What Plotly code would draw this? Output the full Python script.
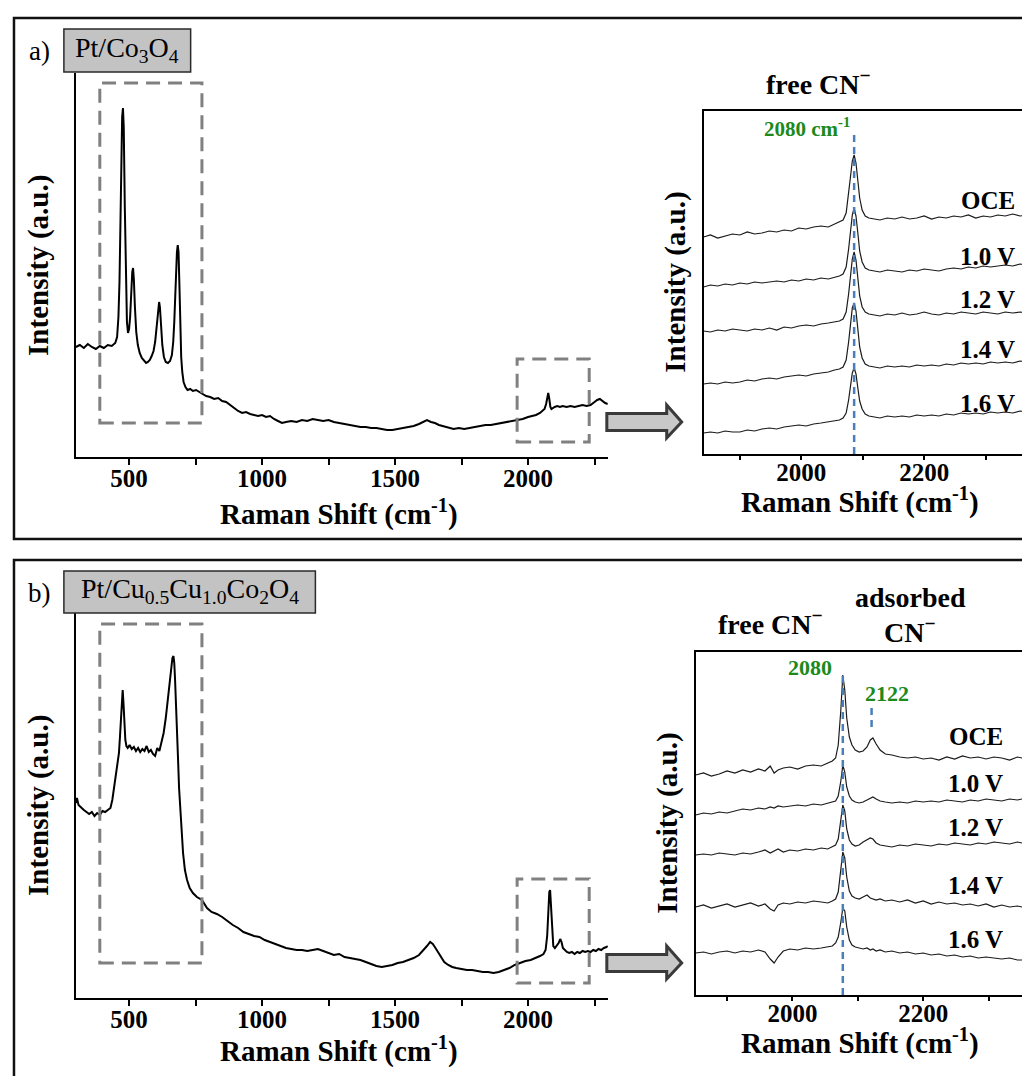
import plotly.graph_objects as go

# ---------------- data ----------------
raman_a_shift = [300, 315, 330, 345, 360, 375, 390, 405, 420, 435,
                 448, 455, 460, 464, 468, 471, 474, 477, 480, 484,
                 488, 492, 496, 500, 504, 508, 512, 515, 518, 522,
                 527, 533, 540, 548, 556, 564, 571, 578, 585, 592,
                 598, 603, 607, 610, 613, 616, 620, 625, 631, 638,
                 646, 654, 661, 666, 670, 674, 677, 680, 683, 686,
                 689, 692, 696, 700, 705, 712, 720, 730, 740, 752,
                 764, 776, 790, 805, 820, 835, 850, 865, 880, 895,
                 910, 925, 940, 955, 970, 985, 1000, 1015, 1030, 1045,
                 1060, 1075, 1090, 1110, 1130, 1150, 1170, 1190, 1210, 1230,
                 1250, 1270, 1290, 1310, 1330, 1350, 1370, 1390, 1410, 1430,
                 1450, 1470, 1490, 1510, 1530, 1550, 1570, 1590, 1605, 1620,
                 1635, 1650, 1665, 1680, 1700, 1720, 1740, 1760, 1780, 1800,
                 1820, 1840, 1860, 1880, 1900, 1920, 1940, 1960, 1980, 2000,
                 2015, 2030, 2045, 2055, 2062, 2068, 2072, 2076, 2080, 2084,
                 2088, 2093, 2100, 2110, 2120, 2130, 2145, 2160, 2175, 2190,
                 2205, 2220, 2235, 2250, 2260, 2270, 2280, 2290, 2300]
raman_a_int = [110, 112, 109, 113, 110, 108, 111, 109, 112, 111,
               114, 120, 140, 175, 240, 300, 340, 349, 330, 250,
               170, 135, 124, 128, 140, 165, 185, 189, 178, 150,
               125, 112, 104, 99, 96, 94, 95, 97, 101, 106,
               115, 130, 145, 153, 155, 150, 132, 112, 100, 95,
               94, 96, 102, 115, 135, 165, 190, 205, 212, 205,
               175, 130, 100, 85, 75, 70, 67, 68, 66, 67,
               65, 63, 61, 60, 58, 59, 56, 55, 52, 49,
               46, 44, 45, 43, 42, 41, 42, 40, 41, 38,
               36, 34, 35, 36, 35, 37, 36, 38, 37, 36,
               37, 35, 34, 33, 32, 31, 30, 30, 29, 29,
               28, 27, 27, 28, 29, 30, 31, 33, 35, 37,
               35, 34, 32, 31, 29, 28, 29, 28, 29, 30,
               31, 32, 32, 33, 34, 35, 36, 37, 38, 40,
               41, 42, 44, 46, 48, 53, 60, 64, 58, 50,
               48, 49, 50, 51, 50, 51, 50, 51, 50, 51,
               52, 51, 52, 55, 57, 58, 56, 54, 53]

raman_b_shift = [300, 304, 310, 320, 330, 340, 350, 360, 370, 380,
                 390, 400, 410, 420, 430, 437, 443, 450, 456, 462,
                 466, 470, 473, 476, 479, 482, 486, 490, 495, 502,
                 510, 518, 526, 534, 542, 550, 558, 566, 574, 582,
                 590, 598, 606, 614, 622, 630, 638, 645, 652, 658,
                 663, 667, 670, 673, 676, 680, 684, 688, 692, 697,
                 703, 710, 718, 728, 740, 755, 774, 793, 810, 830,
                 850, 870, 890, 910, 930, 950, 970, 990, 1010, 1030,
                 1050, 1070, 1090, 1110, 1130, 1150, 1170, 1190, 1210, 1230,
                 1250, 1270, 1290, 1310, 1330, 1350, 1370, 1390, 1410, 1430,
                 1450, 1470, 1490, 1510, 1530, 1550, 1570, 1590, 1605, 1620,
                 1632, 1642, 1652, 1662, 1672, 1685, 1700, 1715, 1730, 1750,
                 1770, 1790, 1810, 1830, 1850, 1870, 1890, 1910, 1930, 1950,
                 1970, 1990, 2010, 2030, 2045, 2058, 2066, 2072, 2076, 2080,
                 2083, 2086, 2090, 2095, 2101, 2108, 2115, 2121, 2126, 2131,
                 2138, 2146, 2155, 2165, 2175, 2185, 2195, 2205, 2215, 2225,
                 2235, 2245, 2255, 2265, 2275, 2285, 2295, 2300]
raman_b_int = [195, 200, 193, 190, 188, 186, 184, 186, 182, 185,
               183, 187, 186, 188, 190, 198, 210, 222, 232, 245,
               262, 285, 300, 308, 295, 275, 258, 252, 250, 253,
               249, 251, 247, 250, 246, 249, 247, 252, 246, 248,
               244, 242, 250, 247, 255, 265, 280, 298, 315, 330,
               340, 342, 335, 318, 300, 270, 240, 210, 190, 165,
               145, 128, 118, 110, 105, 101, 98, 90, 86, 84,
               81, 77, 73, 70, 66, 64, 62, 61, 58, 56,
               54, 52, 50, 49, 48, 48, 47, 48, 49, 47,
               45, 43, 44, 41, 40, 39, 38, 36, 34, 32,
               31, 32, 33, 35, 36, 38, 40, 43, 47, 52,
               56, 54, 50, 46, 42, 36, 33, 31, 30, 29,
               28, 28, 27, 26, 26, 25, 26, 28, 30, 33,
               35, 37, 38, 40, 42, 44, 48, 62, 90, 106,
               108, 95, 70, 52, 50, 52, 55, 59, 56, 50,
               48, 46, 45, 46, 44, 46, 45, 47, 46, 47,
               46, 48, 47, 49, 48, 50, 51, 52]

potentials = ["OCE", "1.0 V", "1.2 V", "1.4 V", "1.6 V"]

inset_a_shift = [1841, 1852, 1864, 1876, 1888, 1900, 1912, 1924, 1936, 1948,
                 1960, 1972, 1984, 1996, 2008, 2020, 2032, 2044, 2054, 2062,
                 2068, 2073, 2077, 2080, 2083, 2086, 2089, 2092, 2095, 2099,
                 2104, 2110, 2118, 2128, 2140, 2152, 2164, 2176, 2188, 2200,
                 2212, 2224, 2236, 2248, 2260, 2272, 2284, 2296, 2308, 2320,
                 2332, 2344, 2356, 2369]
inset_a_oce = [217, 219, 216, 218, 220, 219, 222, 220, 221, 223,
               222, 224, 223, 226, 225, 227, 228, 227, 230, 232,
               234, 241, 259, 277, 293, 299, 291, 273, 256, 244,
               238, 236, 235, 234, 236, 235, 237, 235, 236, 238,
               235, 237, 236, 238, 237, 239, 236, 238, 237, 239,
               238, 240, 238, 239]
inset_a_10 = [167, 169, 168, 170, 169, 171, 170, 172, 171, 172,
              173, 172, 174, 173, 175, 174, 176, 175, 177, 178,
              180, 187, 205, 223, 239, 246, 238, 221, 203, 192,
              186, 184, 183, 182, 184, 183, 182, 184, 183, 185,
              184, 183, 185, 186, 185, 187, 186, 188, 187, 188,
              189, 188, 190, 189]
inset_a_12 = [123, 122, 124, 123, 125, 124, 123, 125, 124, 126,
              124, 127, 126, 128, 129, 128, 130, 131, 132, 133,
              135, 142, 160, 178, 195, 202, 194, 176, 158, 147,
              142, 140, 139, 138, 140, 139, 141, 139, 140, 142,
              140, 139, 141, 140, 142, 141, 140, 142, 141, 140,
              142, 141, 142, 141]
inset_a_14 = [70, 71, 70, 72, 71, 72, 74, 73, 75, 76,
              75, 77, 78, 79, 78, 80, 81, 82, 84, 85,
              87, 94, 112, 130, 146, 151, 143, 125, 107, 96,
              90, 88, 87, 86, 88, 87, 88, 87, 89, 88,
              89, 88, 90, 89, 91, 90, 91, 90, 92, 91,
              92, 91, 93, 92]
inset_a_16 = [21, 22, 21, 23, 22, 22, 24, 23, 25, 26,
              25, 27, 28, 29, 28, 30, 31, 32, 33, 34,
              36, 41, 54, 68, 81, 86, 80, 66, 53, 45,
              40, 38, 37, 36, 38, 37, 38, 37, 39, 38,
              39, 38, 40, 39, 41, 40, 41, 40, 42, 41,
              42, 41, 43, 42]

inset_b_shift = [1852, 1864, 1876, 1888, 1900, 1912, 1924, 1936, 1948, 1958,
                 1966, 1972, 1978, 1986, 1996, 2008, 2020, 2032, 2044, 2054,
                 2061, 2066, 2070, 2074, 2077, 2080, 2083, 2087, 2091, 2096,
                 2102, 2108, 2114, 2119, 2123, 2128, 2134, 2142, 2152, 2164,
                 2176, 2188, 2200, 2212, 2224, 2236, 2248, 2260, 2272, 2284,
                 2296, 2308, 2320, 2332, 2344, 2351]
inset_b_oce = [220, 222, 219, 221, 224, 222, 225, 223, 226, 224,
               229, 222, 225, 227, 228, 226, 229, 230, 229, 232,
               234, 237, 250, 285, 320, 305, 277, 258, 250, 245,
               243, 244, 248, 255, 257, 251, 245, 241, 240, 238,
               237, 238, 236, 237, 235, 238, 236, 239, 237, 238,
               236, 238, 237, 235, 238, 237]
inset_b_10 = [180, 182, 181, 183, 182, 184, 186, 185, 187, 186,
              188, 187, 189, 188, 189, 190, 189, 191, 190, 192,
              193, 194, 199, 214, 230, 223, 208, 199, 195, 193,
              192, 193, 195, 197, 198, 196, 194, 193, 192, 193,
              192, 194, 193, 194, 193, 195, 194, 193, 195, 194,
              196, 195, 194, 196, 195, 196]
inset_b_12 = [140, 141, 140, 142, 141, 140, 142, 141, 143, 145,
              142, 144, 146, 143, 145, 144, 146, 145, 147, 146,
              148, 150, 156, 174, 190, 184, 166, 155, 151, 149,
              150, 153, 155, 157, 156, 152, 150, 149, 148, 150,
              149, 151, 150, 149, 151, 150, 152, 151, 150, 152,
              151, 153, 152, 151, 153, 152]
inset_b_14 = [88, 90, 87, 89, 91, 88, 90, 92, 89, 91,
              86, 84, 90, 92, 91, 93, 92, 94, 93, 92,
              94, 96, 103, 123, 143, 137, 118, 104, 99, 97,
              96, 98, 100, 97, 96, 95, 96, 94, 95, 93,
              95, 92, 94, 91, 93, 91, 92, 90, 91, 89,
              91, 88, 90, 88, 89, 88]
inset_b_16 = [42, 43, 41, 43, 44, 42, 44, 43, 45, 43,
              36, 32, 38, 44, 46, 45, 47, 46, 47, 48,
              49, 52, 58, 73, 87, 84, 68, 55, 50, 48,
              47, 46, 47, 45, 46, 44, 45, 43, 44, 42,
              43, 41, 42, 40, 41, 39, 40, 38, 39, 37,
              38, 37, 36, 37, 35, 35]

# ---------------- layout helpers ----------------
# the page body has an 8px margin, so the figure is drawn 8px in from the window corner
OFF = 8
W, H = 1030 - OFF, 1076 - OFF
FONT = "Liberation Serif"


def fx(p):
    return (p - OFF) / W


def fy(p):
    return 1 - (p - OFF) / H


fig = go.Figure()

# main spectra
fig.add_trace(go.Scatter(x=raman_a_shift, y=raman_a_int, mode="lines",
                         line=dict(color="black", width=2), xaxis="x", yaxis="y",
                         showlegend=False))
fig.add_trace(go.Scatter(x=raman_b_shift, y=raman_b_int, mode="lines",
                         line=dict(color="black", width=2), xaxis="x3", yaxis="y3",
                         showlegend=False))

for ys in [inset_a_oce, inset_a_10, inset_a_12, inset_a_14, inset_a_16]:
    fig.add_trace(go.Scatter(x=inset_a_shift, y=ys, mode="lines",
                             line=dict(color="#1a1a1a", width=1.2),
                             xaxis="x2", yaxis="y2", showlegend=False))
for ys in [inset_b_oce, inset_b_10, inset_b_12, inset_b_14, inset_b_16]:
    fig.add_trace(go.Scatter(x=inset_b_shift, y=ys, mode="lines",
                             line=dict(color="#1a1a1a", width=1.2),
                             xaxis="x4", yaxis="y4", showlegend=False))

tickfont = dict(family=FONT, size=25, color="black", weight="bold")


def xaxis(domain, anchor, rng, dtick, mdtick, mirror, lw, ticklen, standoff):
    return dict(domain=domain, anchor=anchor, range=rng, showline=True,
                linecolor="black", linewidth=lw, mirror=mirror,
                ticks="outside", ticklen=ticklen, tickwidth=1.5, tickcolor="black",
                tick0=0, dtick=dtick, ticklabelstandoff=standoff,
                minor=dict(ticks="outside", ticklen=ticklen, tickwidth=1.5,
                           tickcolor="black", tick0=0, dtick=mdtick),
                showgrid=False, zeroline=False, tickfont=tickfont, fixedrange=True)


def yaxis(domain, anchor, rng, mirror, lw):
    return dict(domain=domain, anchor=anchor, range=rng, showline=True,
                linecolor="black", linewidth=lw, mirror=mirror, ticks="",
                showticklabels=False, showgrid=False, zeroline=False, fixedrange=True)


fig.update_layout(
    width=W, height=H,
    margin=dict(l=0, r=0, t=0, b=0),
    paper_bgcolor="white", plot_bgcolor="white",
    xaxis=xaxis([fx(76), fx(609)], "y", [300, 2300], 500, 250, False, 2, 6, -8),
    yaxis=yaxis([fy(457), fy(73)], "x", [0, 384], False, 2),
    xaxis2=xaxis([fx(705), 1.0], "y2", [1841, 2369], 200, 100, True, 1.5, 4, -9),
    yaxis2=yaxis([fy(454), fy(111)], "x2", [0, 343], True, 1.5),
    xaxis3=xaxis([fx(76), fx(609)], "y3", [300, 2300], 500, 250, False, 2, 6, -8),
    yaxis3=yaxis([fy(998), fy(613)], "x3", [0, 385], False, 2),
    xaxis4=xaxis([fx(697), fx(1024)], "y4", [1852, 2351], 200, 100, True, 1.5, 4, -9),
    yaxis4=yaxis([fy(995), fy(652)], "x4", [0, 343], True, 1.5),
)

shapes = []
# panel frames
shapes.append(dict(type="rect", xref="paper", yref="paper", x0=fx(14), x1=fx(1045),
                   y0=fy(539), y1=fy(18), line=dict(color="#111", width=2.5)))
shapes.append(dict(type="rect", xref="paper", yref="paper", x0=fx(14), x1=fx(1045),
                   y0=fy(1090), y1=fy(560), line=dict(color="#111", width=2.5)))
# sample label boxes
shapes.append(dict(type="rect", xref="paper", yref="paper", x0=fx(64), x1=fx(191),
                   y0=fy(72), y1=fy(29), fillcolor="#c3c3c3",
                   line=dict(color="#2a2a2a", width=1.5)))
shapes.append(dict(type="rect", xref="paper", yref="paper", x0=fx(64), x1=fx(316),
                   y0=fy(613), y1=fy(571), fillcolor="#c3c3c3",
                   line=dict(color="#2a2a2a", width=1.5)))
# dashed boxes on main spectra
dash_grey = dict(color="#808080", width=3, dash="14px,8px")
shapes.append(dict(type="rect", xref="x", yref="y", x0=390, x1=774, y0=34, y1=374,
                   line=dash_grey))
shapes.append(dict(type="rect", xref="x", yref="y", x0=1959, x1=2230, y0=15, y1=98,
                   line=dash_grey))
shapes.append(dict(type="rect", xref="x3", yref="y3", x0=390, x1=774, y0=35, y1=374,
                   line=dash_grey))
shapes.append(dict(type="rect", xref="x3", yref="y3", x0=1959, x1=2230, y0=15, y1=119,
                   line=dash_grey))


# block arrows
def arrow_path(yc):
    pts = [(608, yc - 8.5), (668, yc - 8.5), (668, yc - 17), (683, yc),
           (668, yc + 16), (668, yc + 8.5), (608, yc + 8.5)]
    s = "M " + " L ".join(f"{fx(a):.5f},{fy(b):.5f}" for a, b in pts) + " Z"
    return s


for yc in (422, 963):
    shapes.append(dict(type="path", xref="paper", yref="paper", path=arrow_path(yc),
                       fillcolor="#c8c8c8", line=dict(color="#3a3a3a", width=3)))

blue = dict(color="#4a7ebb", width=2.5, dash="7px,5px")
shapes.append(dict(type="line", xref="x2", yref="paper", x0=2086, x1=2086,
                   y0=fy(454), y1=fy(131), line=blue))
shapes.append(dict(type="line", xref="x4", yref="paper", x0=2077, x1=2077,
                   y0=fy(995), y1=fy(672), line=blue))
shapes.append(dict(type="line", xref="x4", yref="paper", x0=2121, x1=2121,
                   y0=fy(727), y1=fy(705), line=blue))
fig.update_layout(shapes=shapes)

ann = []


def text(x, y, t, size, bold=True, color="black", xanchor="center", angle=0):
    ann.append(dict(xref="paper", yref="paper", x=fx(x), y=fy(y),
                    text=(f"<b>{t}</b>" if bold else t), showarrow=False,
                    xanchor=xanchor, yanchor="middle", textangle=angle,
                    font=dict(family=FONT, size=size, color=color)))


GREEN = "#1b8a1b"
TITLE = 29
# panel a
text(40, 51, "a)", 27, bold=False)
text(127, 50, "Pt/Co<sub>3</sub>O<sub>4</sub>", 28, bold=False)
text(340, 512, "Raman Shift (cm<sup>-1</sup>)", TITLE)
text(38, 265, "Intensity (a.u.)", TITLE, angle=-90)
text(862, 500, "Raman Shift (cm<sup>-1</sup>)", TITLE)
text(676, 282, "Intensity (a.u.)", TITLE, angle=-90)
text(820, 82, "free CN<sup>−</sup>", 28)
text(854, 127, "2080 cm<sup>-1</sup>", 21, color=GREEN, xanchor="right")
for lab, yy in zip(potentials, [200, 256, 299, 349, 403]):
    text(1019, yy, lab, 25, xanchor="right")

# panel b
text(40, 593, "b)", 27, bold=False)
text(190, 591, "Pt/Cu<sub>0.5</sub>Cu<sub>1.0</sub>Co<sub>2</sub>O<sub>4</sub>", 28, bold=False)
text(340, 1049, "Raman Shift (cm<sup>-1</sup>)", TITLE)
text(38, 805, "Intensity (a.u.)", TITLE, angle=-90)
text(862, 1041, "Raman Shift (cm<sup>-1</sup>)", TITLE)
text(668, 823, "Intensity (a.u.)", TITLE, angle=-90)
text(772, 622, "free CN<sup>−</sup>", 28)
text(912, 597, "adsorbed", 28)
text(912, 630, "CN<sup>−</sup>", 28)
text(812, 667, "2080", 22, color=GREEN)
text(889, 693, "2122", 22, color=GREEN)
for lab, yy in zip(potentials, [737, 783, 827, 885, 939]):
    text(1007, yy, lab, 25, xanchor="right")

fig.update_layout(annotations=ann)

fig.write_html("out.html")
